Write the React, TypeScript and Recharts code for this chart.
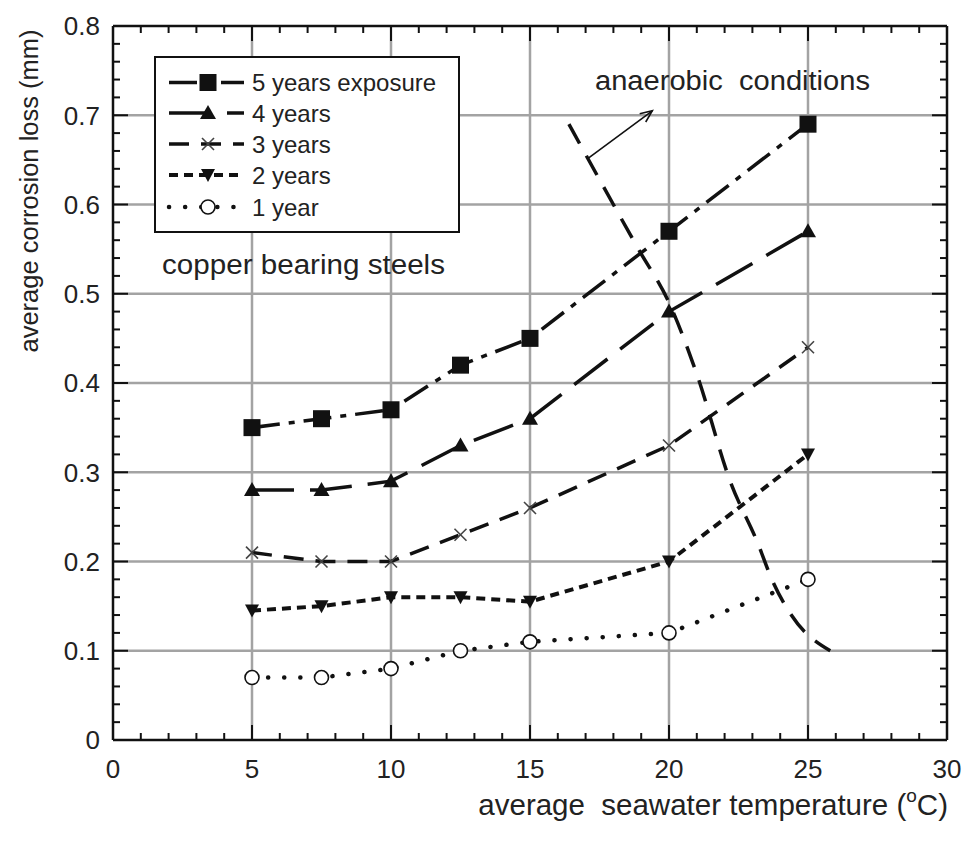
import React from 'react';
import { LineChart, Line, XAxis, YAxis, CartesianGrid } from 'recharts';

// seawater temperature (deg C) at which the coupons were exposed
const temps = [5, 7.5, 10, 12.5, 15, 20, 25];
// average corrosion loss (mm) per exposure period
const loss5yr = [0.35, 0.36, 0.37, 0.42, 0.45, 0.57, 0.69];
const loss4yr = [0.28, 0.28, 0.29, 0.33, 0.36, 0.48, 0.57];
const loss3yr = [0.21, 0.2, 0.2, 0.23, 0.26, 0.33, 0.44];
const loss2yr = [0.145, 0.15, 0.16, 0.16, 0.155, 0.2, 0.32];
const loss1yr = [0.07, 0.07, 0.08, 0.1, 0.11, 0.12, 0.18];

// boundary of "anaerobic conditions"
const anaerobicX = [16.4, 18.9, 20.0, 21.0, 22.2, 23.2, 23.7, 24.4, 25.8];
const anaerobicY = [0.69, 0.55, 0.49, 0.41, 0.29, 0.22, 0.18, 0.14, 0.1];
const arrowX = [17.1, 19.4];
const arrowY = [0.652, 0.705];

const xMajor = [0, 5, 10, 15, 20, 25, 30];
const yMajor = [0, 0.1, 0.2, 0.3, 0.4, 0.5, 0.6, 0.7, 0.8];
const xMinor = Array.from({ length: 31 }, (_, i) => i);
const yMinor = Array.from({ length: 41 }, (_, i) => Math.round(i * 2) / 100);

const W = 963;
const H = 833;
const FONT = '"Liberation Sans", Arial, Helvetica, sans-serif';
const INK = '#111';

const toPts = (xs: number[], ys: number[]) => xs.map((x, i) => ({ x, y: ys[i] }));

const isMajorX = (v: number) => v % 5 === 0;
const isMajorY = (v: number) => Math.round(v * 100) % 10 === 0;

const BottomTick = (p: any) => {
  const v = p.payload.value;
  const major = isMajorX(v);
  return (
    <g>
      <line x1={p.x} x2={p.x} y1={p.y} y2={p.y - (major ? 15 : 7)} stroke={INK} strokeWidth={2} />
      {major && (
        <text x={p.x} y={p.y + 38} textAnchor="middle" fontSize={26} fontFamily={FONT} fill="#222">
          {v}
        </text>
      )}
    </g>
  );
};

const TopTick = (p: any) => {
  const major = isMajorX(p.payload.value);
  return <line x1={p.x} x2={p.x} y1={p.y} y2={p.y + (major ? 15 : 7)} stroke={INK} strokeWidth={2} />;
};

const LeftTick = (p: any) => {
  const v = p.payload.value;
  const major = isMajorY(v);
  return (
    <g>
      <line x1={p.x} x2={p.x + (major ? 15 : 7)} y1={p.y} y2={p.y} stroke={INK} strokeWidth={2} />
      {major && (
        <text x={p.x - 13} y={p.y} dy="0.36em" textAnchor="end" fontSize={26} fontFamily={FONT} fill="#222">
          {v === 0 ? '0' : v.toFixed(1)}
        </text>
      )}
    </g>
  );
};

const RightTick = (p: any) => {
  const major = isMajorY(p.payload.value);
  return <line x1={p.x} x2={p.x - (major ? 15 : 7)} y1={p.y} y2={p.y} stroke={INK} strokeWidth={2} />;
};

// markers
const square = (cx: number, cy: number, k?: any) => (
  <rect key={k} x={cx - 8.5} y={cy - 8.5} width={17} height={17} fill={INK} />
);
const triUp = (cx: number, cy: number, k?: any) => (
  <polygon key={k} points={`${cx},${cy - 8} ${cx - 8},${cy + 6} ${cx + 8},${cy + 6}`} fill={INK} />
);
const cross = (cx: number, cy: number, k?: any) => (
  <g key={k} stroke="#444" strokeWidth={1.6}>
    <line x1={cx - 6} y1={cy - 6} x2={cx + 6} y2={cy + 6} />
    <line x1={cx - 6} y1={cy + 6} x2={cx + 6} y2={cy - 6} />
  </g>
);
const triDown = (cx: number, cy: number, k?: any) => (
  <polygon key={k} points={`${cx - 7},${cy - 6} ${cx + 7},${cy - 6} ${cx},${cy + 7}`} fill={INK} />
);
const circle = (cx: number, cy: number, k?: any) => (
  <circle key={k} cx={cx} cy={cy} r={7} fill="#fff" stroke={INK} strokeWidth={1.6} />
);

const dotFrom = (m: (cx: number, cy: number, k?: any) => React.ReactElement) => (p: any) =>
  m(p.cx, p.cy, `d${p.index}`);

let arrowStart: { x: number; y: number } | null = null;
const ArrowDot = (p: any) => {
  if (p.index === 0) {
    arrowStart = { x: p.cx, y: p.cy };
    return <g key="a0" />;
  }
  const s = arrowStart ?? { x: p.cx - 60, y: p.cy + 45 };
  const a = Math.atan2(p.cy - s.y, p.cx - s.x);
  const L = 13;
  const spread = 0.4;
  const p1 = [p.cx - L * Math.cos(a - spread), p.cy - L * Math.sin(a - spread)];
  const p2 = [p.cx - L * Math.cos(a + spread), p.cy - L * Math.sin(a + spread)];
  return (
    <polyline
      key="a1"
      points={`${p1[0]},${p1[1]} ${p.cx},${p.cy} ${p2[0]},${p2[1]}`}
      fill="none"
      stroke={INK}
      strokeWidth={1.6}
    />
  );
};

const seriesList = [
  { name: '5 years exposure', ys: loss5yr, dash: '28 9 6 9', width: 3.5, cap: 'butt', marker: square },
  { name: '4 years', ys: loss4yr, dash: '42 16', width: 3.5, cap: 'butt', marker: triUp },
  { name: '3 years', ys: loss3yr, dash: '20 12', width: 3.5, cap: 'butt', marker: cross },
  { name: '2 years', ys: loss2yr, dash: '9 6', width: 4, cap: 'butt', marker: triDown },
  { name: '1 year', ys: loss1yr, dash: '0.1 16', width: 4.5, cap: 'round', marker: circle },
];

const scaleOf = (axis: any, v: number, fallback: number) => {
  const s = axis && axis.scale;
  if (typeof s === 'function') return s(v);
  if (s && typeof s.map === 'function') return s.map(v);
  return fallback;
};

export default function App() {
  const legendRows = [74.5, 105, 136, 167, 199];
  return (
    <div style={{ position: 'relative', width: W, height: H, background: '#fff' }}>
      <LineChart width={W} height={H} margin={{ top: 17, right: 23, bottom: 21, left: 35 }}>
        <CartesianGrid
          stroke="#a3a3a3"
          strokeWidth={2.5}
          verticalCoordinatesGenerator={({ xAxis, offset }: any) =>
            xMajor.slice(1, -1).map((v) => scaleOf(xAxis, v, offset.left + (v / 30) * offset.width))
          }
          horizontalCoordinatesGenerator={({ yAxis, offset }: any) =>
            yMajor.slice(1, -1).map((v) => scaleOf(yAxis, v, offset.top + (1 - v / 0.8) * offset.height))
          }
        />
        <XAxis
          dataKey="x"
          type="number"
          domain={[0, 30]}
          ticks={xMinor}
          interval={0}
          allowDataOverflow
          height={80}
          tickSize={0}
          tickMargin={0}
          tickLine={false}
          tick={<BottomTick />}
          axisLine={{ stroke: INK, strokeWidth: 2.5 }}
        />
        <XAxis
          xAxisId="top"
          orientation="top"
          dataKey="x"
          type="number"
          domain={[0, 30]}
          ticks={xMinor}
          interval={0}
          allowDataOverflow
          height={1}
          tickSize={0}
          tickMargin={0}
          tickLine={false}
          tick={<TopTick />}
          axisLine={{ stroke: INK, strokeWidth: 2.5 }}
        />
        <YAxis
          type="number"
          domain={[0, 0.8]}
          ticks={yMinor}
          interval={0}
          allowDataOverflow
          width={70}
          tickSize={0}
          tickMargin={0}
          tickLine={false}
          tick={<LeftTick />}
          axisLine={{ stroke: INK, strokeWidth: 2.5 }}
        />
        <YAxis
          yAxisId="right"
          orientation="right"
          type="number"
          domain={[0, 0.8]}
          ticks={yMinor}
          interval={0}
          allowDataOverflow
          width={1}
          tickSize={0}
          tickMargin={0}
          tickLine={false}
          tick={<RightTick />}
          axisLine={{ stroke: INK, strokeWidth: 2.5 }}
        />
        <Line
          data={toPts(anaerobicX, anaerobicY)}
          dataKey="y"
          type="monotone"
          stroke={INK}
          strokeWidth={3.5}
          strokeDasharray="22 14"
          dot={false}
          activeDot={false}
          isAnimationActive={false}
        />
        <Line
          data={toPts(arrowX, arrowY)}
          dataKey="y"
          type="linear"
          stroke={INK}
          strokeWidth={1.6}
          dot={ArrowDot}
          activeDot={false}
          isAnimationActive={false}
        />
        {seriesList.map((s) => (
          <Line
            key={s.name}
            name={s.name}
            data={toPts(temps, s.ys)}
            dataKey="y"
            type="linear"
            stroke={INK}
            strokeWidth={s.width}
            strokeDasharray={s.dash}
            strokeLinecap={s.cap as any}
            dot={dotFrom(s.marker)}
            activeDot={false}
            isAnimationActive={false}
          />
        ))}
      </LineChart>

      <svg
        width={W}
        height={H}
        style={{ position: 'absolute', left: 0, top: 0, pointerEvents: 'none' }}
        fontFamily={FONT}
      >
        {/* legend */}
        <rect x={147} y={49} width={304} height={175} fill="#fff" stroke={INK} strokeWidth={2} />
        {seriesList.map((s, i) => (
          <g key={s.name}>
            <line
              x1={161}
              x2={236}
              y1={legendRows[i]}
              y2={legendRows[i]}
              stroke={INK}
              strokeWidth={s.width}
              strokeDasharray={s.dash}
              strokeLinecap={s.cap as any}
            />
            {s.marker(200, legendRows[i])}
            <text x={244} y={legendRows[i] + 8.5} fontSize={24} fill="#222">
              {s.name}
            </text>
          </g>
        ))}

        <text x={154} y={266} fontSize={27} fill="#222" textLength={283} lengthAdjust="spacingAndGlyphs">
          copper bearing steels
        </text>
        <text
          x={587}
          y={82}
          fontSize={27}
          fill="#222"
          textLength={275}
          lengthAdjust="spacingAndGlyphs"
          style={{ whiteSpace: 'pre' }}
        >
          {'anaerobic  conditions'}
        </text>

        {/* axis titles */}
        <text
          transform="translate(30,183) rotate(-90)"
          textAnchor="middle"
          fontSize={25}
          fill="#222"
          textLength={323}
          lengthAdjust="spacingAndGlyphs"
        >
          average corrosion loss (mm)
        </text>
        <text x={940} y={807} textAnchor="end" fontSize={29.5} fill="#222" style={{ whiteSpace: 'pre' }}>
          {'average  seawater temperature ('}
          <tspan fontSize={19} dy={-13}>
            o
          </tspan>
          <tspan dy={13}>C)</tspan>
        </text>
      </svg>
    </div>
  );
}
